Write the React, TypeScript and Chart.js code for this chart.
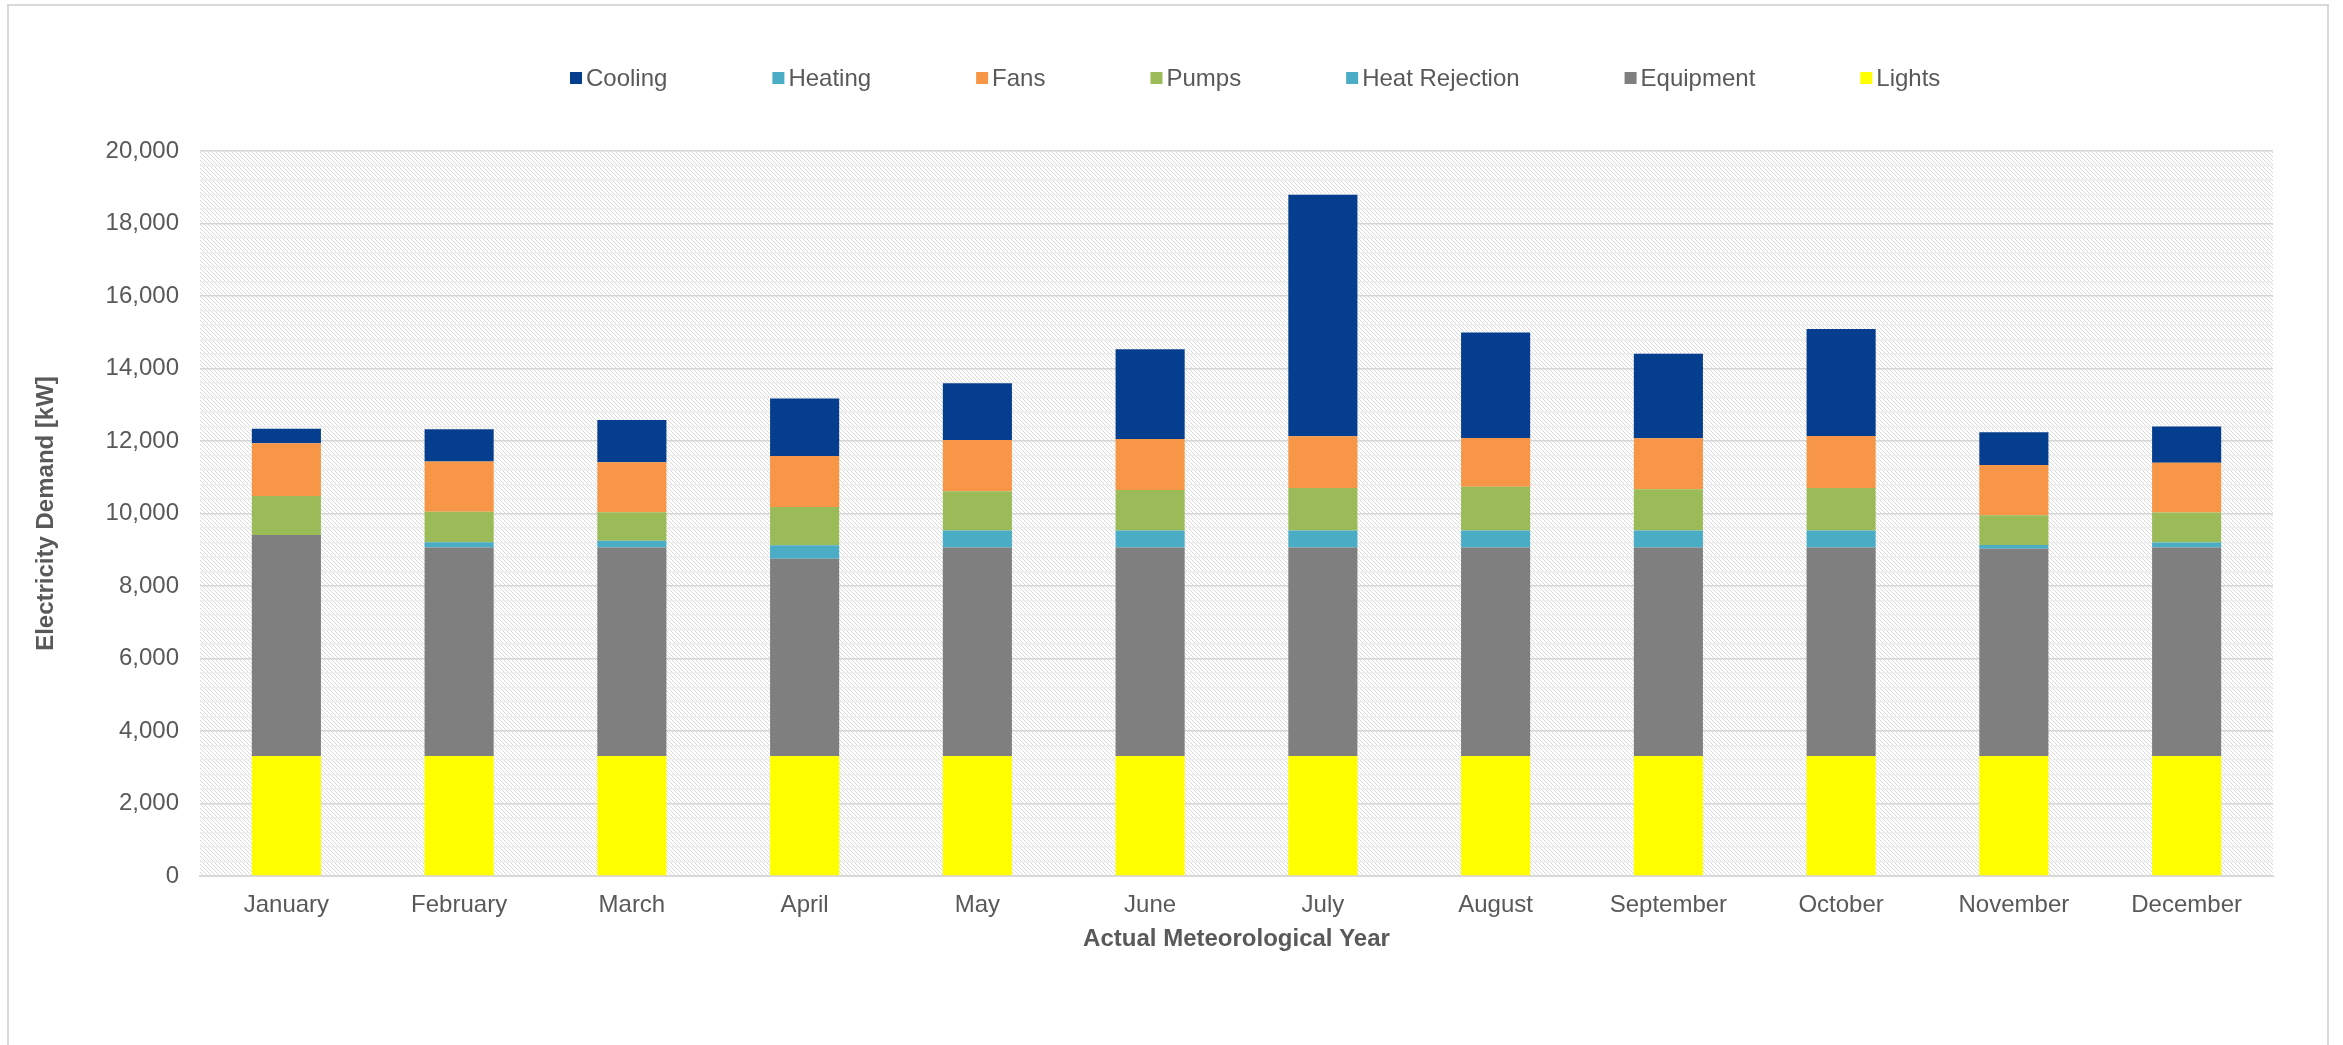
import React, { useEffect, useRef } from 'react';
import { Chart, registerables } from 'chart.js';

Chart.register(...registerables);

const months = ['January', 'February', 'March', 'April', 'May', 'June', 'July', 'August', 'September', 'October', 'November', 'December'];
const lights = [3310, 3310, 3310, 3310, 3310, 3310, 3310, 3310, 3310, 3310, 3310, 3310];
const equipment = [6100, 5750, 5750, 5440, 5750, 5750, 5750, 5750, 5750, 5750, 5720, 5750];
const heatRejection = [0, 150, 185, 375, 470, 470, 470, 470, 470, 470, 100, 140];
const pumps = [1075, 835, 790, 1055, 1085, 1120, 1175, 1205, 1140, 1175, 820, 830];
const fans = [1455, 1390, 1380, 1405, 1415, 1405, 1425, 1345, 1405, 1435, 1390, 1370];
const heating = [0, 0, 0, 0, 0, 0, 0, 0, 0, 0, 0, 0];
const cooling = [395, 890, 1165, 1590, 1565, 2475, 6665, 2915, 2335, 2950, 900, 1000];

const yMin = 0;
const yMax = 20000;
const yMajorStep = 2000;
const yMinorStep = 400;

const FONT = "'Liberation Sans', Arial, sans-serif";
const TEXT = '#595959';

function makeHatch(): CanvasPattern | string {
  const c = document.createElement('canvas');
  c.width = 4;
  c.height = 4;
  const g = c.getContext('2d');
  if (!g) return '#f0f0f0';
  g.fillStyle = '#ffffff';
  g.fillRect(0, 0, 4, 4);
  g.fillStyle = '#d9d9d9';
  for (let i = 0; i < 4; i++) g.fillRect(i, i, 1, 1);
  const p = g.createPattern(c, 'repeat');
  return p || '#f0f0f0';
}

const framePlugin = {
  id: 'frameAndHatch',
  beforeDraw(chart: any) {
    const { ctx, chartArea } = chart;
    ctx.save();
    ctx.fillStyle = '#ffffff';
    ctx.fillRect(0, 0, chart.width, chart.height);
    ctx.strokeStyle = '#d9d9d9';
    ctx.lineWidth = 2;
    ctx.strokeRect(8, 5, 2320, 1050);
    ctx.fillStyle = makeHatch();
    ctx.fillRect(chartArea.left, chartArea.top, chartArea.right - chartArea.left, chartArea.bottom - chartArea.top);
    ctx.restore();
  },
};

const legendPlugin = {
  id: 'customLegend',
  afterDraw(chart: any) {
    const { ctx } = chart;
    const ds = chart.data.datasets.slice().reverse();
    ctx.save();
    ctx.font = `24px ${FONT}`;
    ctx.textBaseline = 'middle';
    ctx.textAlign = 'left';
    let x = 570;
    const cy = 78;
    ds.forEach((d: any) => {
      ctx.fillStyle = d.backgroundColor;
      ctx.fillRect(x, cy - 6, 12, 12);
      ctx.fillStyle = TEXT;
      ctx.fillText(d.label, x + 16, cy + 1);
      x += 16 + ctx.measureText(d.label).width + 105;
    });
    ctx.restore();
  },
};

export default function App() {
  const ref = useRef<HTMLCanvasElement>(null);
  useEffect(() => {
    if (!ref.current) return;
    const chart = new Chart(ref.current, {
      type: 'bar',
      data: {
        labels: months,
        datasets: [
          { label: 'Lights', data: lights, backgroundColor: '#FFFF00' },
          { label: 'Equipment', data: equipment, backgroundColor: '#7F7F7F' },
          { label: 'Heat Rejection', data: heatRejection, backgroundColor: '#4BACC6' },
          { label: 'Pumps', data: pumps, backgroundColor: '#9BBB59' },
          { label: 'Fans', data: fans, backgroundColor: '#F79646' },
          { label: 'Heating', data: heating, backgroundColor: '#4BACC6' },
          { label: 'Cooling', data: cooling, backgroundColor: '#053E8E' },
        ],
      },
      options: {
        animation: false,
        responsive: false,
        maintainAspectRatio: false,
        datasets: { bar: { barPercentage: 0.4, categoryPercentage: 1.0, borderWidth: 0 } },
        layout: { padding: { left: 0, right: 70, top: 151, bottom: 69 } },
        plugins: { legend: { display: false }, tooltip: { enabled: false } },
        scales: {
          x: {
            stacked: true,
            grid: { display: false, drawTicks: false },
            border: { display: true, color: '#d9d9d9', width: 2 },
            ticks: { color: TEXT, font: { family: FONT, size: 24 }, padding: 15, maxRotation: 0, autoSkip: false },
            title: { display: true, text: 'Actual Meteorological Year', color: TEXT, font: { family: FONT, size: 24, weight: 'bold' }, padding: { top: 0, bottom: 22 } },
            afterFit: (s: any) => { s.height = 100; },
          },
          y: {
            stacked: true,
            min: yMin,
            max: yMax,
            grid: {
              drawTicks: false,
              color: (c: any) => (c.tick && c.tick.value % yMajorStep === 0 ? '#d6d6d6' : '#ededed'),
              lineWidth: 1.5,
            },
            border: { display: false },
            ticks: {
              stepSize: yMinorStep,
              autoSkip: false,
              color: TEXT,
              font: { family: FONT, size: 24 },
              padding: 21,
              callback: (v: any) => (Number(v) % yMajorStep === 0 ? Number(v).toLocaleString('en-US') : ''),
            },
            title: { display: true, text: 'Electricity Demand [kW]', color: TEXT, font: { family: FONT, size: 24, weight: 'bold' }, padding: { top: 32, bottom: 0 } },
            afterFit: (s: any) => { s.width = 200; },
          },
        },
      },
      plugins: [framePlugin, legendPlugin],
    });
    return () => chart.destroy();
  }, []);
  return (
    <div style={{ position: 'absolute', left: 0, top: 0, width: 2343, height: 1045 }}>
      <canvas ref={ref} width={2343} height={1045} style={{ display: 'block' }} />
    </div>
  );
}
